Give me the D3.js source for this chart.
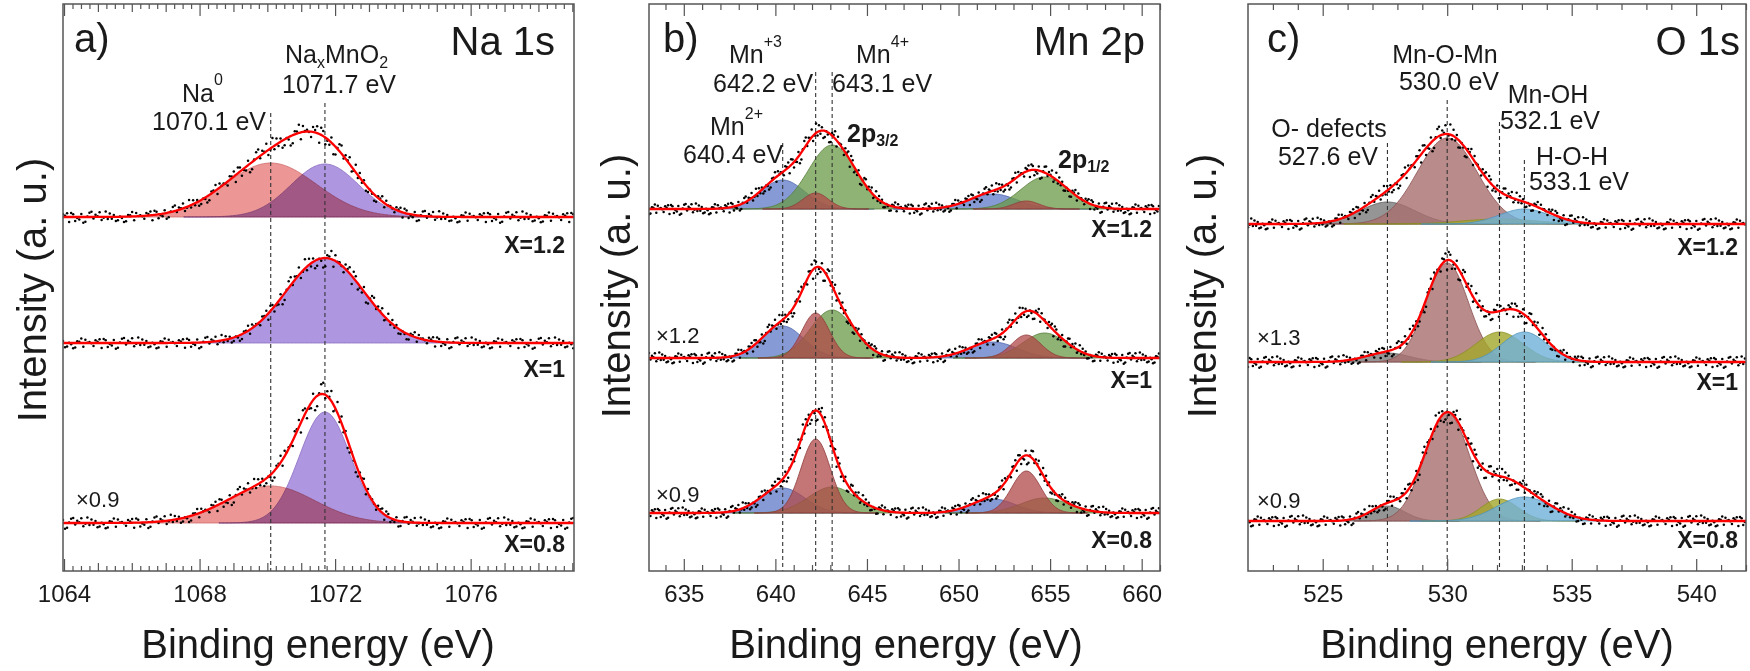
<!DOCTYPE html>
<html><head><meta charset="utf-8">
<script src="https://cdn.jsdelivr.net/npm/d3@7"></script>
<style>
body{margin:0;background:#fff;}
svg text{font-family:"Liberation Sans",Arial,Helvetica,sans-serif;fill:#1a1a1a;}
</style></head><body>
<svg id="chart" width="1750" height="671"></svg>
<script>
// ================= DATA =================
const samples = ["X=1.2", "X=1", "X=0.8"];

// ---- Na 1s ----
const na1sComponents = ["Na0", "NaxMnO2"];
const na1sCenters = [1070.1, 1071.7];            // eV
const na1sHeights = [[54, 53], [0, 85], [37, 111]];   // a.u. per sample
const na1sSigmas  = [[1.35, 1.0], [1.3, 1.15], [1.3, 0.75]]; // eV
const na1sOffsets = [354, 228, 48];              // stacking offset (a.u.)
const na1sMultipliers = ["", "", "×0.9"];
const na1sMajorTicks = [1064, 1068, 1072, 1076];

// ---- Mn 2p ----
const mn2pComponents = ["Mn2+ 2p3/2", "Mn3+ 2p3/2", "Mn4+ 2p3/2", "Mn2+ 2p1/2", "Mn3+ 2p1/2", "Mn4+ 2p1/2"];
const mn2pCenters = [640.4, 642.2, 643.1, 651.9, 653.7, 654.7];
const mn2pHeights = [[29, 16, 64, 15, 8, 32], [32, 45, 48, 16, 23, 25], [25, 74, 26, 14, 42, 15]];
const mn2pSigmas  = [[1.2, 0.7, 1.3, 1.3, 0.7, 1.3], [1.15, 0.75, 1.2, 1.3, 0.8, 1.2], [1.2, 0.8, 1.3, 1.2, 0.8, 1.3]];
const mn2pOffsets = [362, 213, 58];
const mn2pMultipliers = ["", "×1.2", "×0.9"];
const mn2pMajorTicks = [635, 640, 645, 650, 655, 660];

// ---- O 1s ----
const o1sComponents = ["O- defects", "Mn-O-Mn", "Mn-OH", "H-O-H"];
const o1sCenters = [527.6, 530.0, 532.1, 533.1];
const o1sHeights = [[22, 86, 5, 15], [9, 99, 30, 30], [15, 108, 22, 24]];
const o1sSigmas  = [[1.1, 1.2, 1.5, 1.0], [0.9, 0.85, 0.95, 0.9], [0.7, 0.9, 0.75, 1.1]];
const o1sOffsets = [347, 209, 50];
const o1sMultipliers = ["", "×1.3", "×0.9"];
const o1sMajorTicks = [525, 530, 535, 540];

// estimated scatter of measured points around the fit (a.u.)
const scatterOffsets = [1.8,-2.6,0.4,3.1,-1.2,-3.5,2.2,0.9,-0.7,2.9,-2.1,1.3,-3.0,0.2,2.5,-1.6,3.4,-0.5,-2.8,1.1,0.6,-3.3,2.0,-1.0,3.6,-2.3,0.8,-0.2,2.7,-3.8,1.5,-1.4,0.1,3.0,-2.0,1.9,-3.1,0.5,2.3,-0.9,-2.5];

// ================= LAYOUT =================
const FONT = '"Liberation Sans",Arial,Helvetica,sans-serif';
const svg = d3.select("#chart");
const frameTop = 4, frameBottom = 571;
const y = d3.scaleLinear().domain([0, 567]).range([frameBottom, frameTop]);

const panels = [
  { id:"a", left:63, right:574, domain:[1063.97, 1079.05], step:0.04, dotStep:0.06,
    centers:na1sCenters, heights:na1sHeights, sigmas:na1sSigmas, offsets:na1sOffsets, mult:na1sMultipliers,
    majors:na1sMajorTicks, mids:d3.range(1064, 1080, 1), minors:d3.range(1064, 1079.01, 0.25),
    majorLen:12, midLen:8, minorLen:5,
    fills:["#ec9696", "#af96e1"], strokes:["#d06a6a", "#8a6cc0"], order:[1,0], blend:true, opacity:1,
    dashTops:[113, 103],
    letter:{t:"a)", x:74}, title:{t:"Na 1s", x:555},
    sampleX:565, sampleY:[253, 377, 552], multX:76, multY:[0,0,507],
    yTitleX:46, yTitleY:290, xTitleX:318 },
  { id:"b", left:649, right:1160, domain:[633.1, 661.0], step:0.05, dotStep:0.08,
    centers:mn2pCenters, heights:mn2pHeights, sigmas:mn2pSigmas, offsets:mn2pOffsets, mult:mn2pMultipliers,
    majors:mn2pMajorTicks, mids:[], minors:d3.range(634, 661.01, 1),
    majorLen:12, midLen:6, minorLen:6,
    fills:["#5d78c8", "#b04848", "#6a9a46", "#5d78c8", "#b04848", "#6a9a46"],
    strokes:["#4a62a8", "#8e3a3a", "#557c38", "#4a62a8", "#8e3a3a", "#557c38"],
    order:[0,2,1,3,5,4], blend:false, opacity:0.75,
    dashTops:[143, 72, 72],
    letter:{t:"b)", x:663}, title:{t:"Mn 2p", x:1145},
    sampleX:1152, sampleY:[237, 388, 548], multX:656, multY:[0,343,502],
    yTitleX:630, yTitleY:286, xTitleX:906 },
  { id:"c", left:1248, right:1746, domain:[522, 542], step:0.05, dotStep:0.065,
    centers:o1sCenters, heights:o1sHeights, sigmas:o1sSigmas, offsets:o1sOffsets, mult:o1sMultipliers,
    majors:o1sMajorTicks, mids:[], minors:d3.range(523, 542.01, 1),
    majorLen:12, midLen:6, minorLen:6,
    fills:["#7a7a7a", "#a86e6e", "#a3a82a", "#6fb0d8"], strokes:["#5e5e5e", "#8a5050", "#8a8e20", "#4f92bc"],
    order:[0,1,2,3], blend:false, opacity:0.8,
    dashTops:[143, 100, 122, 160],
    letter:{t:"c)", x:1267}, title:{t:"O 1s", x:1740},
    sampleX:1738, sampleY:[255, 390, 548], multX:1257, multY:[0,345,508],
    yTitleX:1216, yTitleY:286, xTitleX:1497 }
];

const gauss = (E, c, h, s) => h * Math.exp(-((E - c) ** 2) / (2 * s * s));

function addText(g, x, yy, parts, opts = {}) {
  const t = g.append("text").attr("x", x).attr("y", yy)
    .attr("text-anchor", opts.anchor || "start")
    .attr("font-family", FONT);
  let shift = 0;
  parts.forEach(p => {
    const dy = (p.dy || 0) - shift;
    shift = p.dy || 0;
    t.append("tspan").text(p.t)
      .attr("dy", dy)
      .attr("font-size", p.size || 25)
      .attr("font-weight", p.bold ? "bold" : "normal");
  });
  return t;
}

panels.forEach((P, pi) => {
  const g = svg.append("g");
  const x = d3.scaleLinear().domain(P.domain).range([P.left, P.right]);
  const grid = d3.range(P.domain[0], P.domain[1] + 1e-9, P.step);
  const dotGrid = d3.range(P.domain[0], P.domain[1] + 1e-9, P.dotStep);
  const clipId = "clip" + P.id;
  svg.append("clipPath").attr("id", clipId).append("rect")
    .attr("x", P.left).attr("y", frameTop).attr("width", P.right - P.left).attr("height", frameBottom - frameTop);
  const plot = g.append("g").attr("clip-path", `url(#${clipId})`);

  samples.forEach((s, k) => {
    const off = P.offsets[k];
    const H = P.heights[k], S = P.sigmas[k];
    P.order.forEach(ci => {
      if (H[ci] <= 0) return;
      const c = P.centers[ci], sg = S[ci];
      const pts = grid.filter(E => Math.abs(E - c) <= 4.2 * sg);
      const area = d3.area()
        .x(E => x(E))
        .y0(y(off))
        .y1(E => y(off + gauss(E, c, H[ci], sg)));
      const path = plot.append("path").datum(pts)
        .attr("d", area)
        .attr("fill", P.fills[ci])
        .attr("fill-opacity", P.opacity)
        .attr("stroke", P.strokes[ci])
        .attr("stroke-width", 1)
        .attr("stroke-opacity", 0.8);
      if (P.blend) path.style("mix-blend-mode", "multiply");
    });
  });

  // vertical dashed reference lines
  P.centers.slice(0, P.dashTops.length).forEach((c, i) => {
    plot.append("line")
      .attr("x1", x(c)).attr("x2", x(c))
      .attr("y1", P.dashTops[i]).attr("y2", frameBottom)
      .attr("stroke", "#333").attr("stroke-width", 1.1)
      .attr("stroke-dasharray", "4 3");
  });

  samples.forEach((s, k) => {
    const off = P.offsets[k];
    const H = P.heights[k], S = P.sigmas[k];
    const total = E => P.centers.reduce((acc, c, ci) => acc + gauss(E, c, H[ci], S[ci]), 0);
    const n = scatterOffsets.length;
    plot.append("g").selectAll("circle").data(dotGrid).join("circle")
      .attr("cx", E => x(E))
      .attr("cy", (E, i) => {
        const sig = total(E);
        return y(off + sig + scatterOffsets[(i * 7 + k * 11 + pi * 5) % n] * (1.5 + sig / 70));
      })
      .attr("r", 1.25)
      .attr("fill", "#000");
    const line = d3.line().x(E => x(E)).y(E => y(off + total(E))).curve(d3.curveBasis);
    plot.append("path").datum(grid).attr("d", line)
      .attr("fill", "none").attr("stroke", "#ff0000").attr("stroke-width", 2.3);
  });

  // frame
  g.append("rect").attr("x", P.left).attr("y", frameTop)
    .attr("width", P.right - P.left).attr("height", frameBottom - frameTop)
    .attr("fill", "none").attr("stroke", "#555").attr("stroke-width", 1.5);

  const styleAxis = sel => {
    sel.select(".domain").remove();
    sel.selectAll(".tick line").attr("stroke", "#555").attr("stroke-width", 1.2);
  };
  const minors = P.minors.filter(v => !P.majors.includes(v) && !P.mids.includes(v));
  const mids = P.mids.filter(v => !P.majors.includes(v));
  [[minors, P.minorLen], [mids, P.midLen]].forEach(([vals, len]) => {
    if (!vals.length) return;
    g.append("g").attr("transform", `translate(0,${frameBottom})`)
      .call(d3.axisBottom(x).tickValues(vals).tickSize(-len).tickFormat("")).call(styleAxis);
    g.append("g").attr("transform", `translate(0,${frameTop})`)
      .call(d3.axisTop(x).tickValues(vals).tickSize(-len).tickFormat("")).call(styleAxis);
  });
  const bottom = g.append("g").attr("transform", `translate(0,${frameBottom})`)
    .call(d3.axisBottom(x).tickValues(P.majors).tickSize(-P.majorLen).tickPadding(14).tickFormat(d3.format("d")))
    .call(styleAxis);
  bottom.selectAll("text").attr("font-size", 24).attr("font-family", FONT).attr("fill", "#1a1a1a");
  g.append("g").attr("transform", `translate(0,${frameTop})`)
    .call(d3.axisTop(x).tickValues(P.majors).tickSize(-P.majorLen).tickFormat(""))
    .call(styleAxis);

  addText(g, P.xTitleX, 658, [{t:"Binding energy (eV)", size:40}], {anchor:"middle"});
  g.append("text").attr("transform", `translate(${P.yTitleX},${P.yTitleY}) rotate(-90)`)
    .attr("text-anchor", "middle").attr("font-size", 40).attr("font-family", FONT)
    .text("Intensity (a. u.)");

  addText(g, P.letter.x, 52, [{t:P.letter.t, size:40}]);
  addText(g, P.title.x, 55, [{t:P.title.t, size:40}], {anchor:"end"});

  samples.forEach((s, k) => {
    addText(g, P.sampleX, P.sampleY[k], [{t:s, size:23, bold:true}], {anchor:"end"});
    if (P.mult[k]) addText(g, P.multX, P.multY[k], [{t:P.mult[k], size:22}]);
  });

  if (P.id === "a") {
    addText(g, 182, 102, [{t:"Na"}, {t:"0", size:16, dy:-17}]);
    addText(g, 152, 130, [{t:`${na1sCenters[0].toFixed(1)} eV`}]);
    addText(g, 285, 63, [{t:"Na"}, {t:"x", size:16, dy:5}, {t:"MnO"}, {t:"2", size:16, dy:5}]);
    addText(g, 282, 93, [{t:`${na1sCenters[1].toFixed(1)} eV`}]);
  } else if (P.id === "b") {
    addText(g, 729, 63, [{t:"Mn"}, {t:"+3", size:16, dy:-16}]);
    addText(g, 713, 92, [{t:`${mn2pCenters[1].toFixed(1)} eV`}]);
    addText(g, 856, 63, [{t:"Mn"}, {t:"4+", size:16, dy:-16}]);
    addText(g, 832, 92, [{t:`${mn2pCenters[2].toFixed(1)} eV`}]);
    addText(g, 710, 135, [{t:"Mn"}, {t:"2+", size:16, dy:-16}]);
    addText(g, 683, 163, [{t:`${mn2pCenters[0].toFixed(1)} eV`}]);
    addText(g, 847, 142, [{t:"2p", bold:true}, {t:"3/2", size:16, bold:true, dy:4}]);
    addText(g, 1058, 168, [{t:"2p", bold:true}, {t:"1/2", size:16, bold:true, dy:4}]);
  } else {
    addText(g, 1445, 63, [{t:o1sComponents[1]}], {anchor:"middle"});
    addText(g, 1449, 90, [{t:`${o1sCenters[1].toFixed(1)} eV`}], {anchor:"middle"});
    addText(g, 1548, 103, [{t:o1sComponents[2]}], {anchor:"middle"});
    addText(g, 1550, 129, [{t:`${o1sCenters[2].toFixed(1)} eV`}], {anchor:"middle"});
    addText(g, 1329, 137, [{t:o1sComponents[0]}], {anchor:"middle"});
    addText(g, 1328, 165, [{t:`${o1sCenters[0].toFixed(1)} eV`}], {anchor:"middle"});
    addText(g, 1572, 165, [{t:o1sComponents[3]}], {anchor:"middle"});
    addText(g, 1579, 190, [{t:`${o1sCenters[3].toFixed(1)} eV`}], {anchor:"middle"});
  }
});
</script>
</body></html>
